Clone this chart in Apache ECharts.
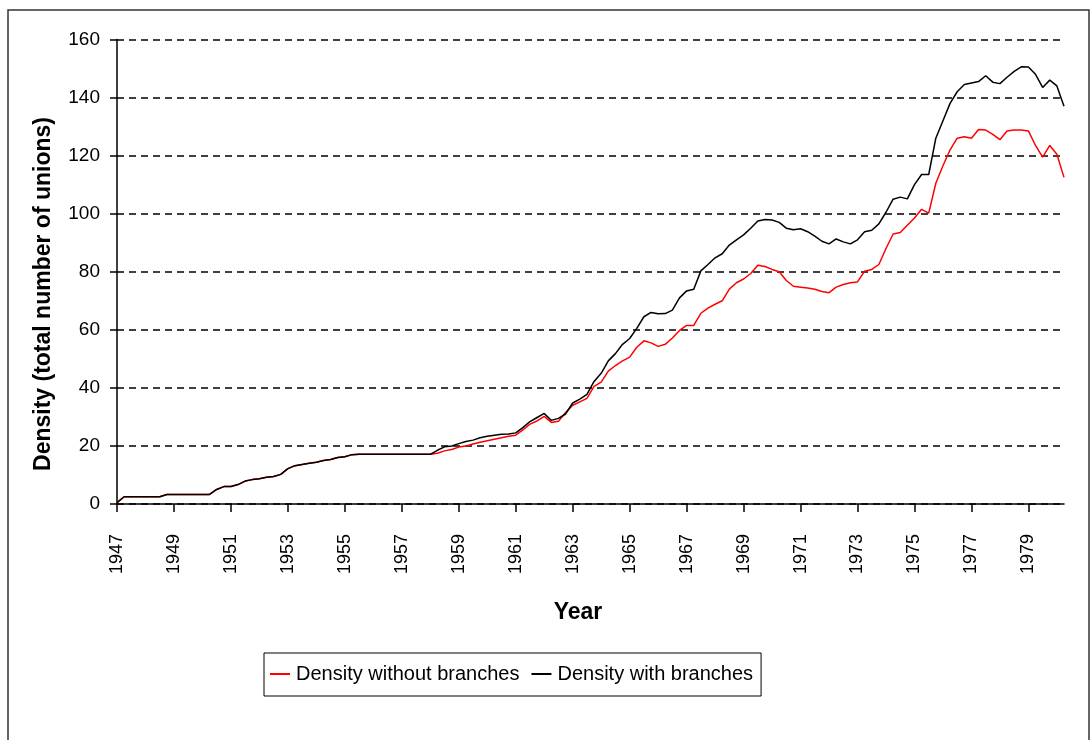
<!DOCTYPE html>
<html>
<head>
<meta charset="utf-8">
<script src="https://cdn.jsdelivr.net/npm/echarts@6/dist/echarts.min.js"></script>
<style>
html,body{margin:0;padding:0;background:#fff;}
#chart{width:1092px;height:740px;}
</style>
</head>
<body>
<div id="chart"></div>
<script>
// Quarterly observations, 1947 Q1 .. 1980 Q2
const firstYear = 1947;
const lastYear = 1980;
const lastQuarter = 2;
const quarters = [];
for (let y = firstYear; y <= lastYear; y++) {
  for (let q = 1; q <= 4; q++) {
    if (y === lastYear && q > lastQuarter) break;
    quarters.push(y + ' Q' + q);
  }
}

const yTicks = [0, 20, 40, 60, 80, 100, 120, 140, 160];
const seriesNames = ['Density without branches', 'Density with branches'];

// Density with branches (black)
const withBranches = [
  0.5, 2.5, 2.5, 2.5,        // 1947
  2.5, 2.5, 2.5, 3.3,        // 1948
  3.3, 3.3, 3.3, 3.3,        // 1949
  3.3, 3.3, 5.0, 6.0,        // 1950
  6.0, 6.7, 7.9, 8.4,        // 1951
  8.7, 9.2, 9.5, 10.2,       // 1952
  12.2, 13.2, 13.6, 14.0,    // 1953
  14.4, 15.0, 15.3, 16.0,    // 1954
  16.3, 17.0, 17.1, 17.1,    // 1955
  17.1, 17.1, 17.1, 17.1,    // 1956
  17.1, 17.1, 17.1, 17.1,    // 1957
  17.1, 18.5, 19.7, 20.0,    // 1958
  20.8, 21.5, 22.0, 22.8,    // 1959
  23.3, 23.7, 24.0, 24.1,    // 1960
  24.5, 26.3, 28.4, 29.8,    // 1961
  31.2, 28.8, 29.5, 31.0,    // 1962
  34.8, 36.1, 37.8, 42.2,    // 1963
  45.0, 49.3, 51.8, 55.0,    // 1964
  57.0, 60.5, 64.5, 66.0,    // 1965
  65.5, 65.6, 66.8, 71.0,    // 1966
  73.4, 74.0, 80.3, 82.5,    // 1967
  84.8, 86.2, 89.2, 91.0,    // 1968
  92.7, 95.0, 97.5, 98.0,    // 1969
  97.8, 97.0, 95.0, 94.5,    // 1970
  94.8, 93.8, 92.3, 90.5,    // 1971
  89.6, 91.3, 90.3, 89.6,    // 1972
  91.0, 93.8, 94.3, 96.5,    // 1973
  100.5, 105.0, 105.7, 105.1,// 1974
  110.0, 113.5, 113.5, 126.0,// 1975
  132.0, 138.0, 142.0, 144.5,// 1976
  145.0, 145.5, 147.5, 145.3,// 1977
  144.8, 147.0, 149.0, 150.6,// 1978
  150.5, 148.0, 143.5, 146.0,// 1979
  144.0, 137.0               // 1980
];

// Density without branches (red)
const withoutBranches = [
  0.5, 2.5, 2.5, 2.5,        // 1947
  2.5, 2.5, 2.5, 3.3,        // 1948
  3.3, 3.3, 3.3, 3.3,        // 1949
  3.3, 3.3, 5.0, 6.0,        // 1950
  6.0, 6.7, 7.9, 8.4,        // 1951
  8.7, 9.2, 9.5, 10.2,       // 1952
  12.2, 13.2, 13.6, 14.0,    // 1953
  14.4, 15.0, 15.3, 16.0,    // 1954
  16.3, 17.0, 17.1, 17.1,    // 1955
  17.1, 17.1, 17.1, 17.1,    // 1956
  17.1, 17.1, 17.1, 17.1,    // 1957
  17.1, 17.5, 18.3, 18.8,    // 1958
  19.6, 20.0, 20.7, 21.3,    // 1959
  21.8, 22.3, 22.8, 23.3,    // 1960
  23.7, 25.5, 27.5, 28.6,    // 1961
  30.2, 28.1, 28.5, 31.5,    // 1962
  34.0, 35.2, 36.4, 40.5,    // 1963
  42.0, 45.8, 47.7, 49.3,    // 1964
  50.6, 54.0, 56.2, 55.5,    // 1965
  54.3, 55.0, 57.2, 59.8,    // 1966
  61.5, 61.5, 65.7, 67.5,    // 1967
  68.8, 70.0, 74.0, 76.2,    // 1968
  77.5, 79.4, 82.2, 81.8,    // 1969
  80.8, 80.0, 77.0, 75.0,    // 1970
  74.7, 74.4, 74.0, 73.2,    // 1971
  72.8, 74.7, 75.6, 76.2,    // 1972
  76.5, 80.2, 80.8, 82.5,    // 1973
  88.0, 93.0, 93.5, 96.0,    // 1974
  98.5, 101.5, 100.2, 110.5, // 1975
  116.5, 122.0, 126.0, 126.5,// 1976
  126.0, 129.0, 128.8, 127.3,// 1977
  125.5, 128.5, 128.8, 128.8,// 1978
  128.5, 123.5, 119.5, 123.5,// 1979
  120.5, 112.5               // 1980
];

const chart = echarts.init(document.getElementById('chart'), null, {renderer: 'canvas'});
const FONT = '"Liberation Sans", Arial, sans-serif';

chart.setOption({
  animation: false,
  backgroundColor: '#fff',
  textStyle: {fontFamily: FONT, color: '#000'},
  grid: {left: 117, top: 39.5, right: 28, bottom: 236, containLabel: false},
  legend: {
    data: seriesNames,
    left: 264,
    top: 653,
    orient: 'horizontal',
    icon: 'rect',
    borderColor: '#000',
    borderWidth: 1,
    padding: [11, 8, 12, 6],
    itemGap: 12,
    itemWidth: 20,
    itemHeight: 2,
    textStyle: {fontFamily: FONT, fontSize: 20, color: '#000', padding: [0, 0, 0, 1]}
  },
  xAxis: {
    type: 'category',
    data: quarters,
    boundaryGap: false,
    axisLine: {show: true, lineStyle: {color: '#000', width: 1.5}},
    axisTick: {show: true, interval: 7, length: 8, lineStyle: {color: '#000', width: 1.5}},
    axisLabel: {
      interval: 7,
      rotate: 90,
      margin: 30,
      fontSize: 18,
      fontFamily: FONT,
      color: '#000',
      formatter: function (v) { return v.slice(0, 4); }
    },
    splitLine: {show: false}
  },
  yAxis: {
    type: 'value',
    min: yTicks[0],
    max: yTicks[yTicks.length - 1],
    interval: 20,
    axisLine: {show: true, lineStyle: {color: '#000', width: 1.5}},
    axisTick: {show: true, length: 7, lineStyle: {color: '#000', width: 1.5}},
    axisLabel: {margin: 17, fontSize: 19, fontFamily: FONT, color: '#000'},
    splitLine: {show: true, lineStyle: {color: '#000', width: 1.5, type: [7, 5]}}
  },
  series: [
    {
      name: seriesNames[0],
      type: 'line',
      data: withoutBranches,
      symbol: 'none',
      lineStyle: {color: '#ff0000', width: 1.5},
      itemStyle: {color: '#ff0000'},
      z: 2
    },
    {
      name: seriesNames[1],
      type: 'line',
      data: withBranches,
      symbol: 'none',
      lineStyle: {color: '#000000', width: 1.5},
      itemStyle: {color: '#000000'},
      z: 3
    }
  ],
  graphic: [
    {
      type: 'rect',
      shape: {x: 8, y: 10, width: 1081, height: 760},
      style: {fill: 'none', stroke: '#333', lineWidth: 1.5},
      silent: true
    },
    {
      type: 'text',
      x: 44,
      y: 294,
      rotation: Math.PI / 2,
      style: {
        text: 'Density (total number of unions)',
        font: 'bold 23px ' + FONT,
        fill: '#000',
        align: 'center',
        verticalAlign: 'middle'
      }
    },
    {
      type: 'text',
      x: 578,
      y: 613,
      style: {
        text: 'Year',
        font: 'bold 23px ' + FONT,
        fill: '#000',
        align: 'center',
        verticalAlign: 'middle'
      }
    }
  ]
});
</script>
</body>
</html>
